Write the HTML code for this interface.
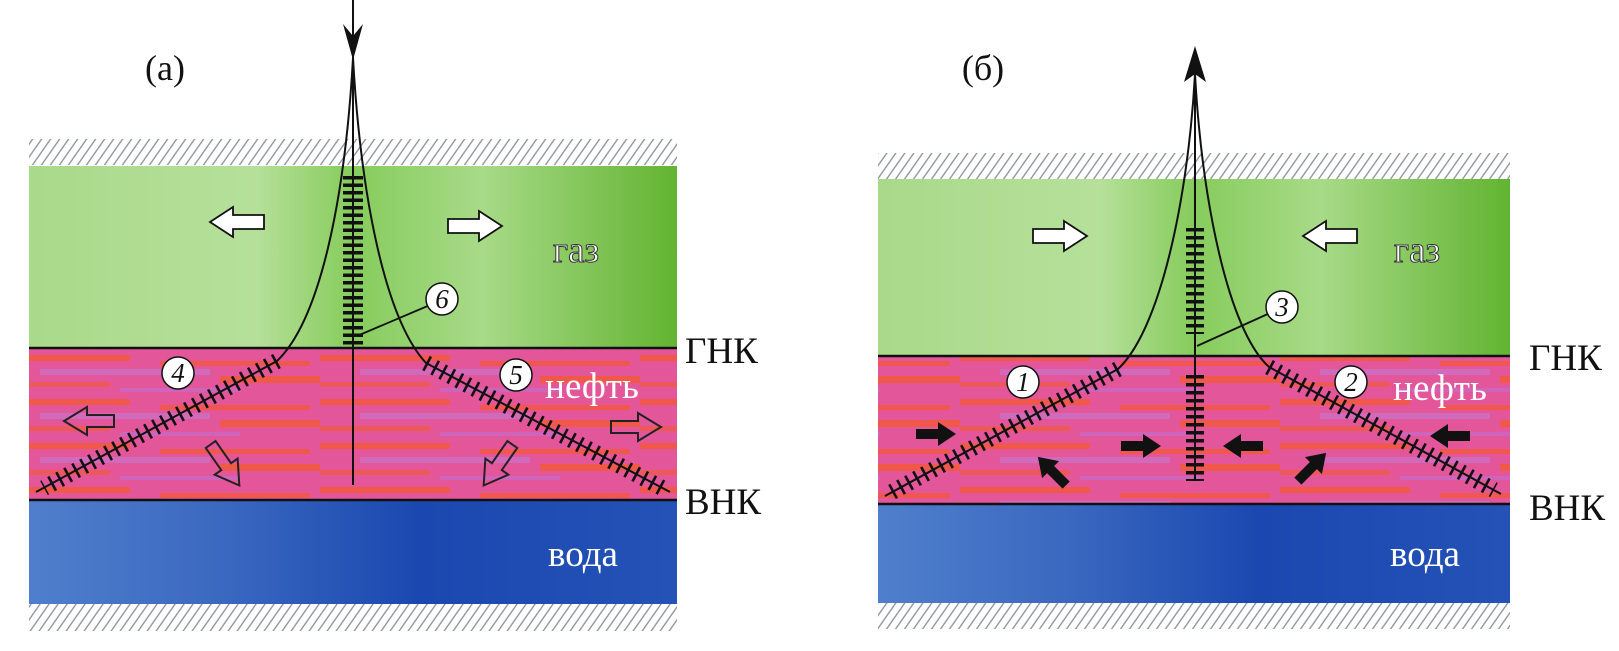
<!DOCTYPE html>
<html><head><meta charset="utf-8"><style>
html,body{margin:0;padding:0;background:#fff;width:1619px;height:651px;overflow:hidden}
svg{display:block}
text{font-family:"Liberation Serif",serif}
</style></head><body>
<svg width="1619" height="651" viewBox="0 0 1619 651" xmlns="http://www.w3.org/2000/svg">
<defs>
<pattern id="hatch" width="9" height="30" patternUnits="userSpaceOnUse" patternTransform="skewX(-35)">
<line x1="4" y1="0" x2="4" y2="30" stroke="#8a8f9a" stroke-width="1.6"/>
</pattern>
<linearGradient id="gr" x1="0" y1="0" x2="1" y2="0">
<stop offset="0" stop-color="#a9d98a"/><stop offset="0.35" stop-color="#b6e09a"/>
<stop offset="0.5" stop-color="#86cc5c"/><stop offset="0.7" stop-color="#a8da88"/>
<stop offset="1" stop-color="#62b431"/></linearGradient>
<radialGradient id="grc" cx="0.5" cy="0" r="0.5"><stop offset="0" stop-color="#3f9f22" stop-opacity="0.85"/><stop offset="1" stop-color="#4fae2a" stop-opacity="0"/></radialGradient>
<linearGradient id="bl" x1="0" y1="0" x2="1" y2="0">
<stop offset="0" stop-color="#4f7fcc"/><stop offset="0.3" stop-color="#3b68c0"/>
<stop offset="0.6" stop-color="#1a48b0"/><stop offset="1" stop-color="#2452b6"/></linearGradient>
<pattern id="pk" width="320" height="44" patternUnits="userSpaceOnUse">
<rect width="320" height="44" fill="#e4569a"/>
<rect x="0" y="3" width="130" height="6" fill="#f2593c" opacity="0.85"/>
<rect x="160" y="9" width="150" height="5" fill="#f2593c" opacity="0.8"/>
<rect x="40" y="17" width="170" height="6" fill="#c674c8" opacity="0.7"/>
<rect x="220" y="24" width="100" height="7" fill="#f2593c" opacity="0.85"/>
<rect x="0" y="30" width="110" height="5" fill="#f2593c" opacity="0.7"/>
<rect x="120" y="36" width="120" height="4" fill="#c070d0" opacity="0.6"/>
</pattern>
<clipPath id="ca"><rect x="29" y="166" width="648" height="182"/></clipPath>
<clipPath id="cb"><rect x="878" y="179" width="632" height="177"/></clipPath>
<path id="ar" d="M-25,-6 L2,-6 L2,-14 L25,0 L2,14 L2,6 L-25,6 Z"/>
<path id="arb" d="M-20,-5 L2,-5 L2,-12 L20,0 L2,12 L2,5 L-20,5 Z"/>
<path id="arw" d="M-27,-7 L4,-7 L4,-15 L27,0 L4,15 L4,7 L-27,7 Z"/>
</defs>

<!-- Panel a -->
<rect x="29" y="139" width="648" height="26" fill="url(#hatch)"/>
<rect x="29" y="604" width="648" height="27" fill="url(#hatch)"/>
<rect x="29" y="166" width="648" height="182" fill="url(#gr)"/>
<ellipse cx="353" cy="166" rx="140" ry="90" fill="url(#grc)" clip-path="url(#ca)"/>
<rect x="29" y="348" width="648" height="152" fill="url(#pk)"/>
<rect x="29" y="500" width="648" height="104" fill="url(#bl)"/>
<line x1="29" y1="348" x2="677" y2="348" stroke="#111" stroke-width="2.5"/>
<line x1="29" y1="500" x2="677" y2="500" stroke="#111" stroke-width="2.5"/>
<line x1="353" y1="0" x2="353" y2="485" stroke="#111" stroke-width="2"/>
<path d="M353,60 L343,24 L353,36 L363,24 Z" fill="#111"/>
<path d="M353,58 C345,200 320,320 277,361 L36,492" fill="none" stroke="#111" stroke-width="2"/>
<path d="M353,58 C361,200 386,320 426,363 L670,492" fill="none" stroke="#111" stroke-width="2"/>
<line x1="353" y1="176" x2="353" y2="346" stroke="#111" stroke-width="20" stroke-dasharray="3.5 4"/>
<line x1="277" y1="361" x2="44" y2="488" stroke="#111" stroke-width="16" stroke-dasharray="2.6 6.5"/>
<line x1="426" y1="363" x2="662" y2="488" stroke="#111" stroke-width="16" stroke-dasharray="2.6 6.5"/>
<line x1="357" y1="336" x2="430" y2="305" stroke="#111" stroke-width="1.8"/>
<g fill="#fff" stroke="#111" stroke-width="1.5">
<circle cx="442" cy="299" r="16"/><circle cx="178" cy="373" r="16"/><circle cx="516" cy="375" r="16"/></g>
<g font-size="27" font-style="italic" text-anchor="middle" fill="#111">
<text x="442" y="308">6</text><text x="178" y="382">4</text><text x="516" y="384">5</text></g>
<g fill="#fff" stroke="#111" stroke-width="1.8">
<use href="#arw" transform="translate(237,222) rotate(180)"/>
<use href="#arw" transform="translate(475,226)"/></g>
<g fill="none" stroke="#222" stroke-width="2">
<use href="#ar" transform="translate(89,421) rotate(180)"/>
<use href="#ar" transform="translate(225,465) rotate(55)"/>
<use href="#ar" transform="translate(636,427)"/>
<use href="#ar" transform="translate(498,465) rotate(125)"/></g>
<text x="165" y="80" font-size="36" fill="#111" text-anchor="middle">(а)</text>

<!-- Panel b -->
<rect x="878" y="153" width="632" height="26" fill="url(#hatch)"/>
<rect x="878" y="603" width="632" height="26" fill="url(#hatch)"/>
<rect x="878" y="179" width="632" height="177" fill="url(#gr)"/>
<ellipse cx="1195" cy="179" rx="140" ry="90" fill="url(#grc)" clip-path="url(#cb)"/>
<rect x="878" y="356" width="632" height="148" fill="url(#pk)"/>
<rect x="878" y="504" width="632" height="99" fill="url(#bl)"/>
<line x1="878" y1="356" x2="1510" y2="356" stroke="#111" stroke-width="2.5"/>
<line x1="878" y1="504" x2="1510" y2="504" stroke="#111" stroke-width="2.5"/>
<line x1="1195" y1="60" x2="1195" y2="481" stroke="#111" stroke-width="2"/>
<path d="M1195,46 L1184,82 L1195,74 L1206,82 Z" fill="#111"/>
<path d="M1195,74 C1188,200 1160,330 1118,369 L885,496" fill="none" stroke="#111" stroke-width="2"/>
<path d="M1195,74 C1202,200 1228,330 1269,367 L1501,494" fill="none" stroke="#111" stroke-width="2"/>
<line x1="1195" y1="228" x2="1195" y2="334" stroke="#111" stroke-width="18" stroke-dasharray="3.5 4.5"/>
<line x1="1195" y1="375" x2="1195" y2="481" stroke="#111" stroke-width="18" stroke-dasharray="3.5 4.5"/>
<line x1="1118" y1="369" x2="892" y2="492" stroke="#111" stroke-width="16" stroke-dasharray="2.6 6.5"/>
<line x1="1269" y1="367" x2="1494" y2="490" stroke="#111" stroke-width="16" stroke-dasharray="2.6 6.5"/>
<line x1="1197" y1="346" x2="1270" y2="313" stroke="#111" stroke-width="1.8"/>
<g fill="#fff" stroke="#111" stroke-width="1.5">
<circle cx="1282" cy="307" r="16"/><circle cx="1023" cy="382" r="16"/><circle cx="1351" cy="382" r="16"/></g>
<g font-size="27" font-style="italic" text-anchor="middle" fill="#111">
<text x="1282" y="316">3</text><text x="1023" y="391">1</text><text x="1351" y="391">2</text></g>
<g fill="#fff" stroke="#111" stroke-width="1.8">
<use href="#arw" transform="translate(1060,236)"/>
<use href="#arw" transform="translate(1330,236) rotate(180)"/></g>
<g fill="#111">
<use href="#arb" transform="translate(936,434)"/>
<use href="#arb" transform="translate(1052,471) rotate(-135)"/>
<use href="#arb" transform="translate(1141,446)"/>
<use href="#arb" transform="translate(1243,446) rotate(180)"/>
<use href="#arb" transform="translate(1312,467) rotate(-45)"/>
<use href="#arb" transform="translate(1450,436) rotate(180)"/></g>
<text x="983" y="80" font-size="36" fill="#111" text-anchor="middle">(б)</text>

<!-- labels -->
<g font-size="37" fill="#fff" text-anchor="middle">
<text x="576" y="262" stroke="#333" stroke-width="1">газ</text>
<text x="592" y="398">нефть</text>
<text x="583" y="566">вода</text>
<text x="1417" y="262" stroke="#333" stroke-width="1">газ</text>
<text x="1440" y="400">нефть</text>
<text x="1425" y="566">вода</text></g>
<g font-size="37" fill="#111">
<text x="685" y="363">ГНК</text>
<text x="685" y="514">ВНК</text>
<text x="1529" y="370">ГНК</text>
<text x="1529" y="520">ВНК</text></g>
</svg>
</body></html>
